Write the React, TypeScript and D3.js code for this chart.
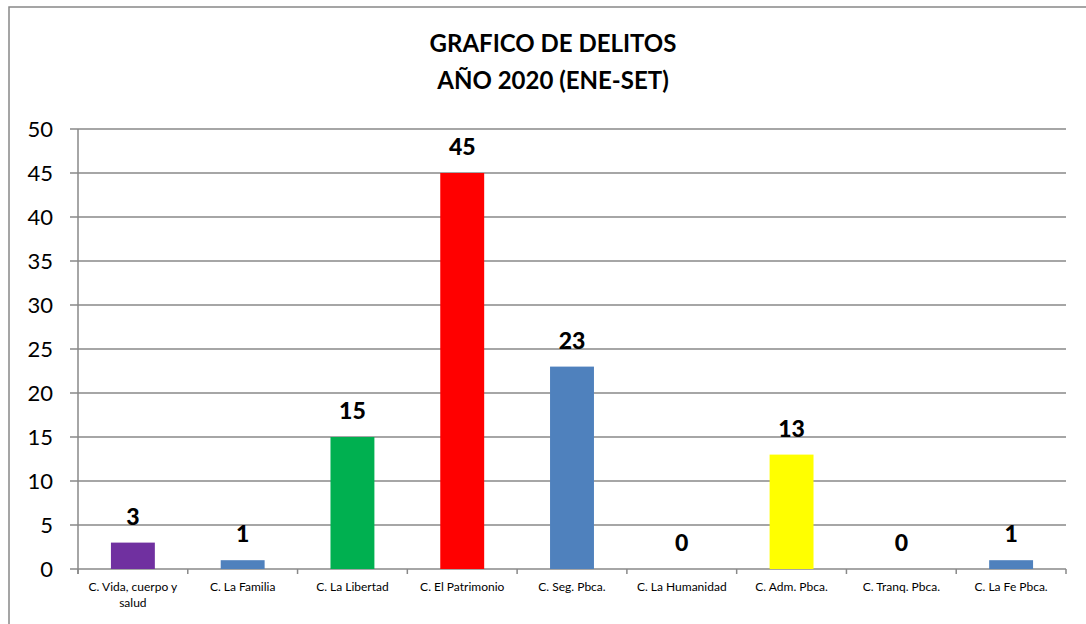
import { useRef, useEffect } from 'react';
import * as d3 from 'd3';

const categories = [
  'C. Vida, cuerpo y salud',
  'C. La Familia',
  'C. La Libertad',
  'C. El Patrimonio',
  'C. Seg. Pbca.',
  'C. La Humanidad',
  'C. Adm. Pbca.',
  'C. Tranq. Pbca.',
  'C. La Fe Pbca.',
];
const values = [3, 1, 15, 45, 23, 0, 13, 0, 1];
const barColors = ['#7030A0', '#4F81BD', '#00B050', '#FF0000', '#4F81BD', '#4F81BD', '#FFFF00', '#4F81BD', '#4F81BD'];
const yTicks = [0, 5, 10, 15, 20, 25, 30, 35, 40, 45, 50];
const titleLines = ['GRAFICO DE DELITOS', 'AÑO 2020 (ENE-SET)'];

const FONT = 'Lato, "Open Sans", sans-serif';

function App() {
  const ref = useRef<SVGSVGElement>(null);

  useEffect(() => {
    const svg = d3.select(ref.current);
    svg.selectAll('*').remove();

    const left = 78, right = 1066, top = 129, bottom = 569;

    // outer frame
    svg.append('rect')
      .attr('x', 9).attr('y', 7)
      .attr('width', 1100).attr('height', 700)
      .attr('fill', 'white')
      .attr('stroke', '#888').attr('stroke-width', 1.5);

    // title
    svg.append('g').selectAll('text')
      .data(titleLines)
      .enter().append('text')
      .attr('x', 553)
      .attr('y', (d, i) => 52 + i * 37)
      .attr('text-anchor', 'middle')
      .attr('font-family', FONT)
      .attr('font-weight', 'bold')
      .attr('font-size', 24)
      .attr('fill', '#000')
      .text(d => d);

    const x = d3.scaleBand()
      .range([left, right])
      .domain(categories)
      .paddingInner(0.6)
      .paddingOuter(0.3);

    const y = d3.scaleLinear()
      .range([bottom, top])
      .domain([0, 50]);

    // gridlines
    svg.append('g').selectAll('line')
      .data(yTicks)
      .enter().append('line')
      .attr('x1', left - 8).attr('x2', right)
      .attr('y1', d => y(d)).attr('y2', d => y(d))
      .attr('stroke', '#898989').attr('stroke-width', 1.5);

    // y axis line
    svg.append('line')
      .attr('x1', left).attr('x2', left)
      .attr('y1', top).attr('y2', bottom + 5)
      .attr('stroke', '#898989').attr('stroke-width', 1.5);

    // y tick labels
    svg.append('g').selectAll('text')
      .data(yTicks)
      .enter().append('text')
      .attr('x', 53)
      .attr('y', d => y(d))
      .attr('dy', '0.36em')
      .attr('text-anchor', 'end')
      .attr('font-family', FONT)
      .attr('font-size', 22)
      .attr('fill', '#000')
      .text(d => d);

    // x category ticks
    const tickXs = d3.range(categories.length + 1).map(i => left + i * (right - left) / categories.length);
    svg.append('g').selectAll('line')
      .data(tickXs)
      .enter().append('line')
      .attr('x1', d => d).attr('x2', d => d)
      .attr('y1', bottom).attr('y2', bottom + 5)
      .attr('stroke', '#898989').attr('stroke-width', 1.5);

    // bars
    svg.append('g').selectAll('rect')
      .data(values)
      .enter().append('rect')
      .attr('x', (d, i) => x(categories[i])!)
      .attr('y', d => y(d))
      .attr('width', x.bandwidth())
      .attr('height', d => bottom - y(d))
      .attr('fill', (d, i) => barColors[i]);

    // value labels
    svg.append('g').selectAll('text')
      .data(values)
      .enter().append('text')
      .attr('x', (d, i) => x(categories[i])! + x.bandwidth() / 2)
      .attr('y', d => y(d) - 18)
      .attr('text-anchor', 'middle')
      .attr('font-family', FONT)
      .attr('font-weight', 900)
      .attr('font-size', 23)
      .attr('fill', '#000')
      .text(d => d);

    // category labels (wrapped)
    const catLabels = svg.append('g').selectAll('text')
      .data(categories)
      .enter().append('text')
      .attr('x', (d, i) => x(d)! + x.bandwidth() / 2)
      .attr('y', 591)
      .attr('text-anchor', 'middle')
      .attr('font-family', FONT)
      .attr('font-size', 12)
      .attr('fill', '#000');

    catLabels.each(function (d) {
      const t = d3.select(this);
      const lines = d === 'C. Vida, cuerpo y salud' ? ['C. Vida, cuerpo y', 'salud'] : [d];
      lines.forEach((l, i) => {
        t.append('tspan')
          .attr('x', t.attr('x'))
          .attr('dy', i === 0 ? 0 : 16)
          .text(l);
      });
    });
  }, []);

  return <svg ref={ref} width={1086} height={624} style={{ position: 'absolute', left: 0, top: 0 }} />;
}

export default App;
